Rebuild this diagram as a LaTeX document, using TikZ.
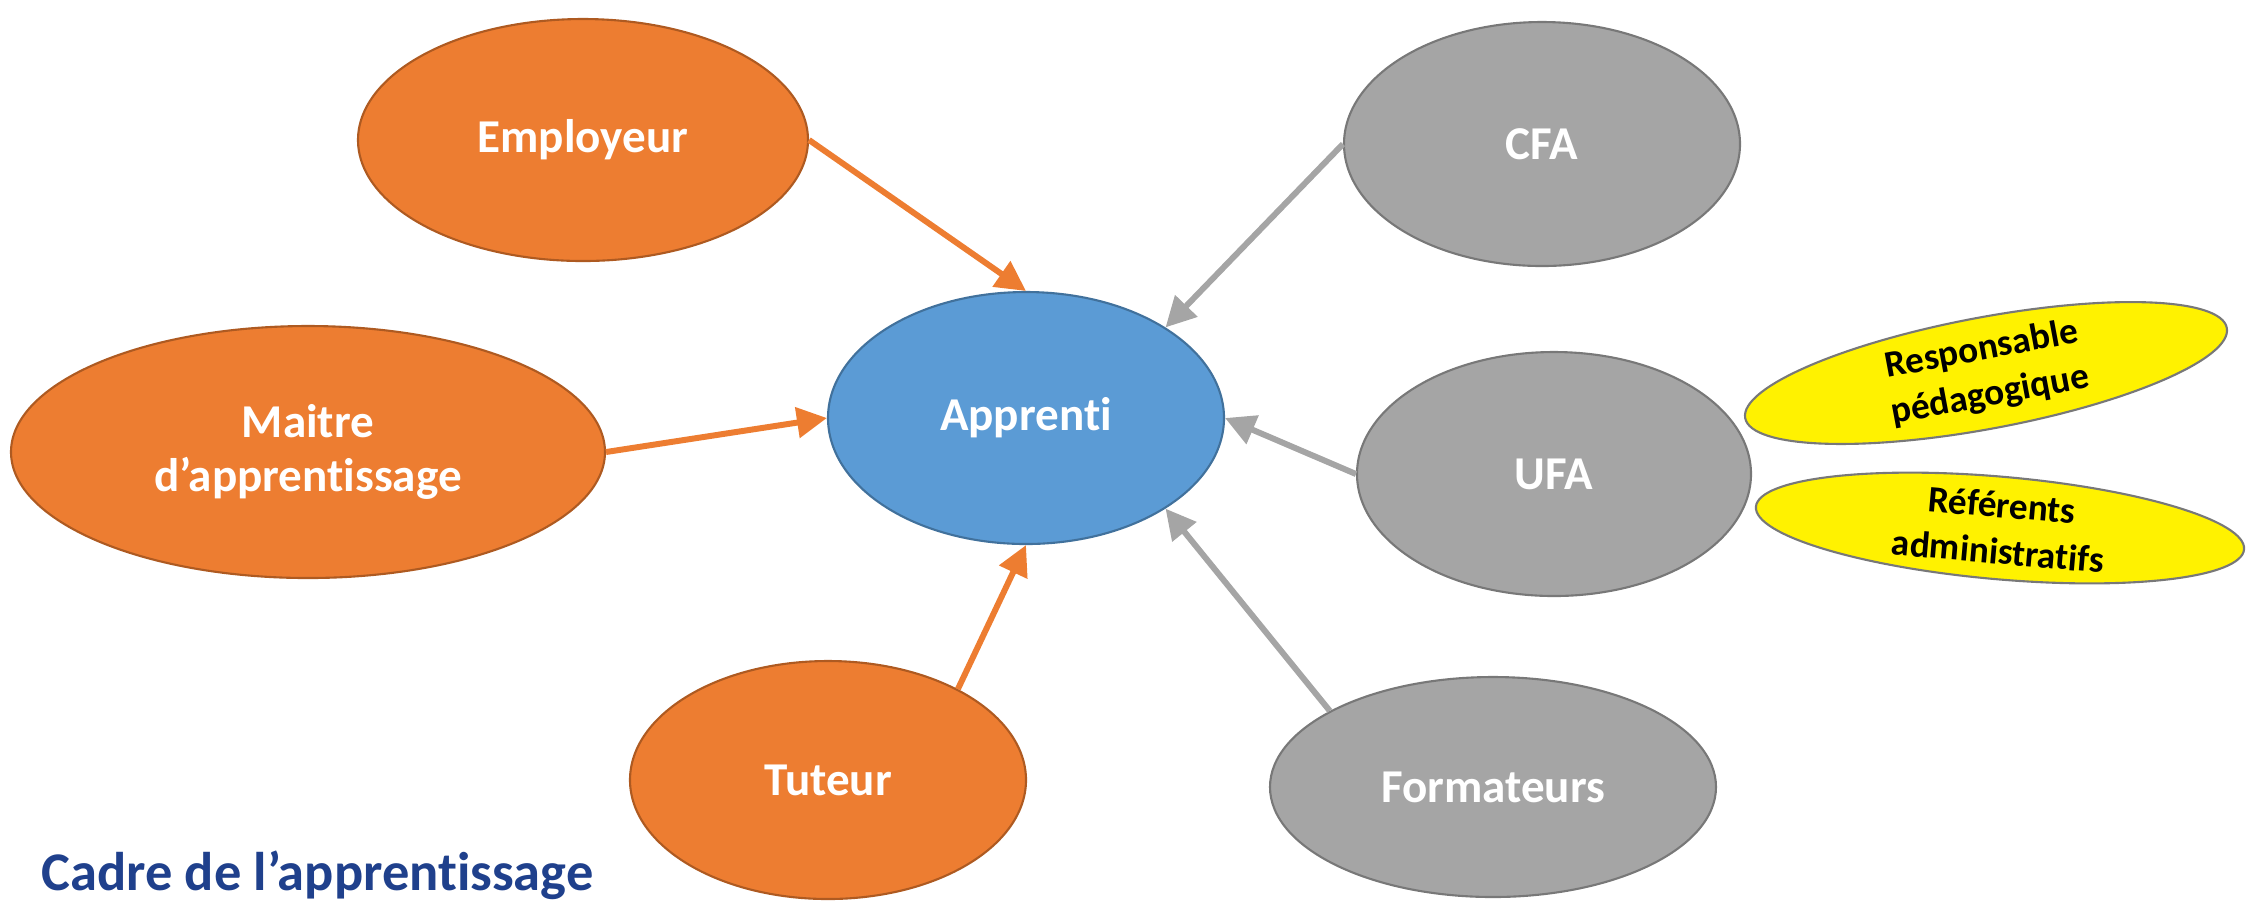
\documentclass[tikz,border=0pt]{standalone}
\usepackage{fontspec}
\setmainfont{Carlito}[Ligatures={TeX,NoCommon}]
\usetikzlibrary{shapes.geometric,arrows.meta}
\definecolor{orA}{RGB}{237,125,49}
\definecolor{orB}{RGB}{174,90,33}
\definecolor{blA}{RGB}{91,155,213}
\definecolor{blB}{RGB}{65,113,156}
\definecolor{grA}{RGB}{165,165,165}
\definecolor{grB}{RGB}{120,120,120}
\definecolor{titleblue}{RGB}{31,64,140}

\begin{document}
\begin{tikzpicture}[
  bubble/.style={ellipse,draw,line width=0.6pt,inner sep=0pt,text=white,align=center,
    font=\fontsize{13.4}{15.6}\selectfont\bfseries},
  orbub/.style={bubble,fill=orA,draw=orB},
  grbub/.style={bubble,fill=grA,draw=grB},
  yebub/.style={bubble,fill=yellow,draw=grB,text=black,minimum width=4.9cm,
    font=\fontsize{10.6}{13.2}\selectfont\bfseries},
  orarrow/.style={-{Triangle[length=0.30cm,width=0.30cm]},line width=1.7pt,draw=orA},
  grarrow/.style={-{Triangle[length=0.30cm,width=0.30cm]},line width=1.7pt,draw=grA}]
\useasboundingbox (0,0) rectangle (22.51,-9.02);
\node [bubble,fill=blA,draw=blB,minimum width=3.96cm,minimum height=2.52cm] (app) at (10.26,-4.18) {Apprenti};
\node [orbub,minimum width=4.50cm,minimum height=2.42cm] (emp) at (5.83,-1.40) {Employeur};
\node [orbub,minimum width=5.94cm,minimum height=2.52cm] (mai) at (3.08,-4.52) {Maitre\\d’apprentissage};
\node [orbub,minimum width=3.96cm,minimum height=2.38cm] (tut) at (8.28,-7.80) {Tuteur};
\node [grbub,minimum width=3.96cm,minimum height=2.44cm] (cfa) at (15.42,-1.44) {CFA};
\node [grbub,minimum width=3.94cm,minimum height=2.44cm] (ufa) at (15.54,-4.74) {UFA};
\node [grbub,minimum width=4.46cm,minimum height=2.20cm] (form) at (14.93,-7.87) {Formateurs};
\node [yebub,minimum height=1.06cm,rotate=10.6] (resp) at (19.86,-3.73) {Responsable\\pédagogique};
\node [yebub,minimum height=0.96cm,rotate=-5] (refa) at (20.00,-5.28) {Référents\\administratifs};
\node [anchor=base west,text=titleblue,font=\fontsize{15.5}{18}\selectfont\bfseries] (titre) at (0.29,-8.90) {Cadre de l’apprentissage};
\draw [orarrow] (emp.east) -- (app.north);
\draw [orarrow] (mai.east) -- (app.west);
\draw [orarrow] (tut.35) -- (app.south);
\draw [grarrow] (cfa.west) -- (app.33);
\draw [grarrow] (ufa.west) -- (app.east);
\draw [grarrow] (form.155) -- (app.-33);
\end{tikzpicture}
\end{document}
